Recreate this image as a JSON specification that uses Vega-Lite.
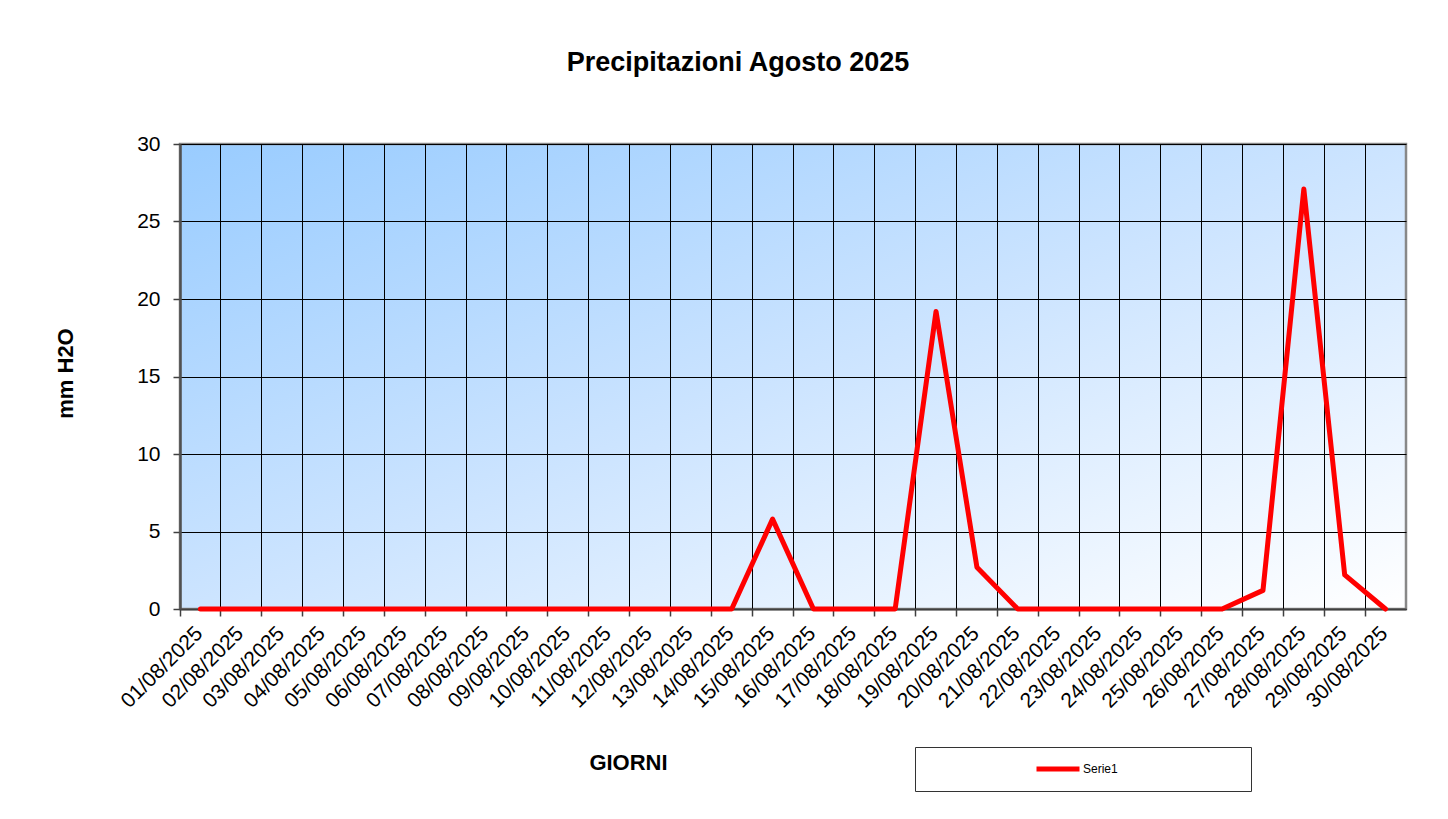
{
  "$schema": "https://vega.github.io/schema/vega-lite/v6.json",
  "width": 1226,
  "height": 465,
  "autosize": {"type": "none"},
  "padding": {"left": 180, "top": 144, "right": 42, "bottom": 210},
  "background": "white",
  "title": {
    "text": "Precipitazioni Agosto 2025",
    "font": "Liberation Sans",
    "fontSize": 27,
    "fontWeight": "bold",
    "color": "black",
    "anchor": "middle",
    "frame": "group",
    "dx": -55,
    "baseline": "alphabetic",
    "offset": 35
  },
  "data": {
    "values": [
      {"giorno": "01/08/2025", "mm": 0},
      {"giorno": "02/08/2025", "mm": 0},
      {"giorno": "03/08/2025", "mm": 0},
      {"giorno": "04/08/2025", "mm": 0},
      {"giorno": "05/08/2025", "mm": 0},
      {"giorno": "06/08/2025", "mm": 0},
      {"giorno": "07/08/2025", "mm": 0},
      {"giorno": "08/08/2025", "mm": 0},
      {"giorno": "09/08/2025", "mm": 0},
      {"giorno": "10/08/2025", "mm": 0},
      {"giorno": "11/08/2025", "mm": 0},
      {"giorno": "12/08/2025", "mm": 0},
      {"giorno": "13/08/2025", "mm": 0},
      {"giorno": "14/08/2025", "mm": 0},
      {"giorno": "15/08/2025", "mm": 5.8},
      {"giorno": "16/08/2025", "mm": 0},
      {"giorno": "17/08/2025", "mm": 0},
      {"giorno": "18/08/2025", "mm": 0},
      {"giorno": "19/08/2025", "mm": 19.2},
      {"giorno": "20/08/2025", "mm": 2.7},
      {"giorno": "21/08/2025", "mm": 0},
      {"giorno": "22/08/2025", "mm": 0},
      {"giorno": "23/08/2025", "mm": 0},
      {"giorno": "24/08/2025", "mm": 0},
      {"giorno": "25/08/2025", "mm": 0},
      {"giorno": "26/08/2025", "mm": 0},
      {"giorno": "27/08/2025", "mm": 1.2},
      {"giorno": "28/08/2025", "mm": 27.1},
      {"giorno": "29/08/2025", "mm": 2.2},
      {"giorno": "30/08/2025", "mm": 0}
    ]
  },
  "mark": {
    "type": "line",
    "strokeWidth": 5,
    "strokeCap": "round",
    "strokeJoin": "round"
  },
  "encoding": {
    "x": {
      "field": "giorno",
      "type": "ordinal",
      "sort": null,
      "scale": {"type": "band", "paddingInner": 0, "paddingOuter": 0},
      "axis": {
        "title": "GIORNI",
        "bandPosition": 0,
        "grid": true,
        "gridColor": "black",
        "gridWidth": 1,
        "gridOpacity": 1,
        "ticks": true,
        "tickSize": 7,
        "tickColor": "#404040",
        "tickWidth": 1.5,
        "domainColor": "#404040",
        "domainWidth": 2,
        "labelAngle": -45,
        "labelAlign": "right",
        "labelBaseline": "middle",
        "labelOffset": -1,
        "labelPadding": 14,
        "labelFont": "Liberation Sans",
        "labelFontSize": 21,
        "labelColor": "black",
        "labelOverlap": false,
        "titleFont": "Liberation Sans",
        "titleFontSize": 22,
        "titleFontWeight": "bold",
        "titleColor": "black",
        "titleX": 448,
        "titleY": 153,
        "titleAlign": "center",
        "titleBaseline": "middle"
      }
    },
    "y": {
      "field": "mm",
      "type": "quantitative",
      "scale": {"domain": [0, 30], "nice": false, "zero": true},
      "axis": {
        "title": "mm H2O",
        "values": [0, 5, 10, 15, 20, 25, 30],
        "grid": true,
        "gridColor": "black",
        "gridWidth": 1,
        "gridOpacity": 1,
        "tickSize": 7,
        "tickColor": "#404040",
        "tickWidth": 1.5,
        "domainColor": "#505050",
        "domainWidth": 2.5,
        "labelPadding": 13,
        "labelFont": "Liberation Sans",
        "labelFontSize": 21,
        "labelColor": "black",
        "titleFont": "Liberation Sans",
        "titleFontSize": 22,
        "titleFontWeight": "bold",
        "titleColor": "black",
        "titleX": -115,
        "titleY": 229,
        "titleAngle": -90,
        "titleAlign": "center",
        "titleBaseline": "middle"
      }
    },
    "color": {
      "datum": "Serie1",
      "type": "nominal",
      "scale": {"domain": ["Serie1"], "range": ["#FF0000"]},
      "legend": {
        "title": " ",
        "titleOrient": "right",
        "titlePadding": 118,
        "orient": "none",
        "legendX": 735,
        "legendY": 603,
        "padding": 15,
        "strokeColor": "#333333",
        "fillColor": "white",
        "symbolType": "stroke",
        "symbolSize": 1849,
        "symbolStrokeWidth": 5,
        "clipHeight": 14,
        "symbolOffset": 104,
        "labelOffset": 1,
        "labelFont": "Liberation Sans",
        "labelFontSize": 12,
        "labelColor": "black"
      }
    }
  },
  "config": {
    "view": {
      "stroke": "#888888",
      "strokeWidth": 2.5,
      "fill": {
        "gradient": "linear",
        "x1": 0, "y1": 0, "x2": 1, "y2": 1,
        "stops": [
          {"offset": 0, "color": "#99CCFF"},
          {"offset": 0.5, "color": "#CCE4FF"},
          {"offset": 1, "color": "#FFFFFF"}
        ]
      }
    }
  }
}
